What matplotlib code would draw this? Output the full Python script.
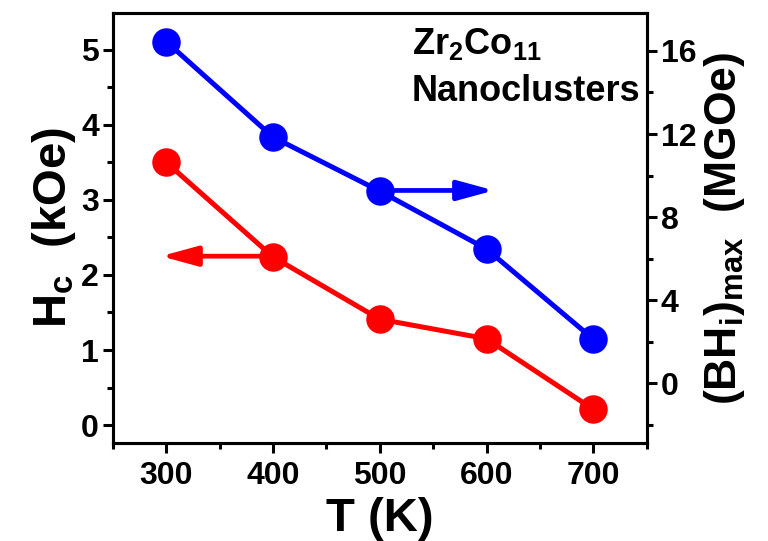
import matplotlib
matplotlib.use("Agg")
import matplotlib.pyplot as plt
from matplotlib.ticker import MultipleLocator

plt.rcParams['font.family'] = ['Liberation Sans', 'DejaVu Sans']
plt.rcParams['font.weight'] = 'bold'
plt.rcParams['mathtext.fontset'] = 'custom'
plt.rcParams['mathtext.rm'] = 'Liberation Sans:bold'
plt.rcParams['mathtext.it'] = 'Liberation Sans:bold'
plt.rcParams['mathtext.bf'] = 'Liberation Sans:bold'

temperature = [300, 400, 500, 600, 700]
hc_koe = [3.50, 2.24, 1.41, 1.15, 0.21]
bh_max = [16.45, 11.85, 9.25, 6.46, 2.12]

x_ticks = [300, 400, 500, 600, 700]
left_ticks = [0, 1, 2, 3, 4, 5]
right_ticks = [0, 4, 8, 12, 16]

fig = plt.figure(figsize=(7.68, 5.41), dpi=100)
ax = fig.add_axes([0.147, 0.181, 0.695, 0.795])
ax2 = ax.twinx()

ax.plot(temperature, hc_koe, '-o', color='#ff0000', lw=3.6, ms=19.5, zorder=3)
ax2.plot(temperature, bh_max, '-o', color='#0000ff', lw=3.6, ms=19.5, zorder=3)

ax.set_xlim(250, 750)
ax.set_ylim(-0.24, 5.49)
ax2.set_ylim(-2.89, 17.83)

ax.set_xticks(x_ticks)
ax.xaxis.set_minor_locator(MultipleLocator(50))
ax.set_yticks(left_ticks)
ax.yaxis.set_minor_locator(MultipleLocator(0.5))
ax2.set_yticks(right_ticks)
ax2.yaxis.set_minor_locator(MultipleLocator(2))

for a in (ax, ax2):
    for s in a.spines.values():
        s.set_linewidth(2.2)
    a.tick_params(which='major', direction='out', length=7, width=2.2, labelsize=23, pad=3)
    a.tick_params(which='minor', direction='out', length=4, width=2.2)
ax.tick_params(axis='x', which='major', pad=6)

ax.set_xlabel('T (K)', fontsize=34, fontweight='bold', labelpad=4)
ax.set_ylabel('H$_\\mathrm{c}$  (kOe)', fontsize=34, fontweight='bold', labelpad=2)
ax2.set_ylabel('(BH$_\\mathrm{i}$)$_\\mathrm{max}$  (MGOe)', fontsize=32, fontweight='bold', labelpad=4)

# arrows
ax.annotate('', xy=(295, 2.25), xytext=(400, 2.25),
            arrowprops=dict(arrowstyle='-|>,head_length=2.2,head_width=0.6', color='#ff0000', lw=3.4, shrinkA=0, shrinkB=0), zorder=2)
ax2.annotate('', xy=(607, 9.28), xytext=(500, 9.28),
             arrowprops=dict(arrowstyle='-|>,head_length=2.2,head_width=0.6', color='#0000ff', lw=3.4, shrinkA=0, shrinkB=0), zorder=2)

ax.text(0.56, 0.905, 'Zr$_2$Co$_{11}$', transform=ax.transAxes, fontsize=26, fontweight='bold', ha='left', va='baseline')
ax.text(0.56, 0.795, 'Nanoclusters', transform=ax.transAxes, fontsize=26, fontweight='bold', ha='left', va='baseline')

fig.savefig('out.png', dpi=100)
